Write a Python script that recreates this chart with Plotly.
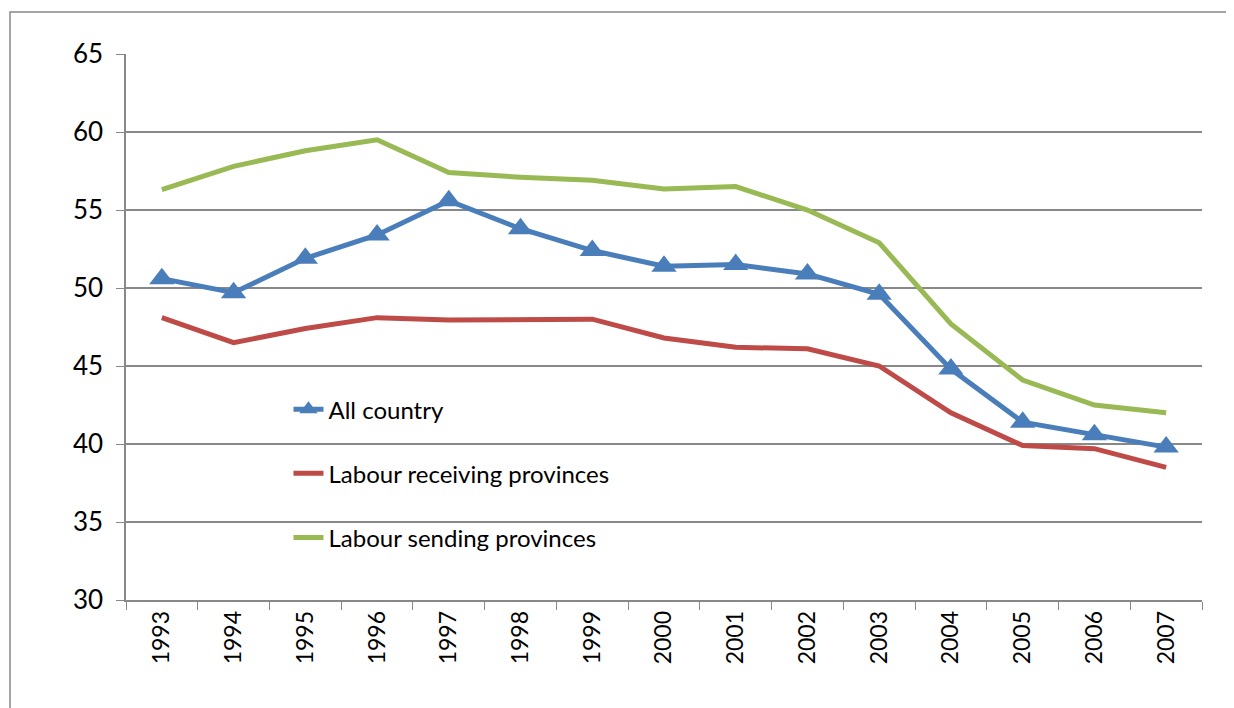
import plotly.graph_objects as go

years = ["1993", "1994", "1995", "1996", "1997", "1998", "1999", "2000",
         "2001", "2002", "2003", "2004", "2005", "2006", "2007"]
all_country = [50.6, 49.7, 51.9, 53.4, 55.6, 53.8, 52.4, 51.4, 51.5, 50.9,
               49.6, 44.8, 41.4, 40.6, 39.8]
receiving = [48.1, 46.5, 47.4, 48.1, 47.95, 48.0, 48.0, 46.8, 46.2, 46.1,
             45.0, 42.0, 39.9, 39.7, 38.5]
sending = [56.3, 57.8, 58.8, 59.5, 57.4, 57.1, 56.9, 56.35, 56.5, 55.0,
           52.9, 47.7, 44.1, 42.5, 42.0]

FONT = "Lato, 'Open Sans', sans-serif"
GRID = "#888888"

fig = go.Figure()
fig.add_trace(go.Scatter(x=years, y=all_country, name="All country",
                         mode="lines+markers", legendgroup="a",
                         line=dict(color="#4A7EBB", width=5),
                         marker=dict(symbol="triangle-up", size=22, color="#4A7EBB")))
fig.add_trace(go.Scatter(x=years, y=receiving, name="Labour receiving provinces",
                         mode="lines", legendgroup="b",
                         line=dict(color="#BE4B48", width=5)))
fig.add_trace(go.Scatter(x=years, y=sending, name="Labour sending provinces",
                         mode="lines", legendgroup="c",
                         line=dict(color="#98B954", width=5)))

fig.update_layout(
    width=1226, height=700,
    margin=dict(l=118, r=32, t=46, b=108),
    paper_bgcolor="white", plot_bgcolor="white",
    font=dict(family=FONT, size=23, color="black"),
    showlegend=True,
    legend=dict(x=0.151, y=0.39, xanchor="left", yanchor="top",
                bgcolor="rgba(0,0,0,0)", tracegroupgap=30,
                font=dict(size=24, family=FONT)),
    xaxis=dict(type="category", showgrid=False, showline=True, linecolor=GRID,
               linewidth=1.5, ticks="outside", ticklen=8, tickcolor=GRID,
               tickson="boundaries", tickangle=-90, tickfont=dict(size=23),
               range=[-0.5, 14.5]),
    yaxis=dict(range=[30, 65], dtick=5, showgrid=True, gridcolor=GRID,
               gridwidth=1.5, showline=True, linecolor=GRID, linewidth=1.5,
               ticks="outside", ticklen=8, tickcolor=GRID, zeroline=False,
               ticklabelstandoff=8, tickfont=dict(size=26)),
    shapes=[dict(type="rect", xref="paper", yref="paper",
                 x0=-0.1078, x1=1.2, y0=-0.4, y1=1.0769,
                 line=dict(color=GRID, width=1.5), layer="below")],
)

fig.write_html("out.html")
